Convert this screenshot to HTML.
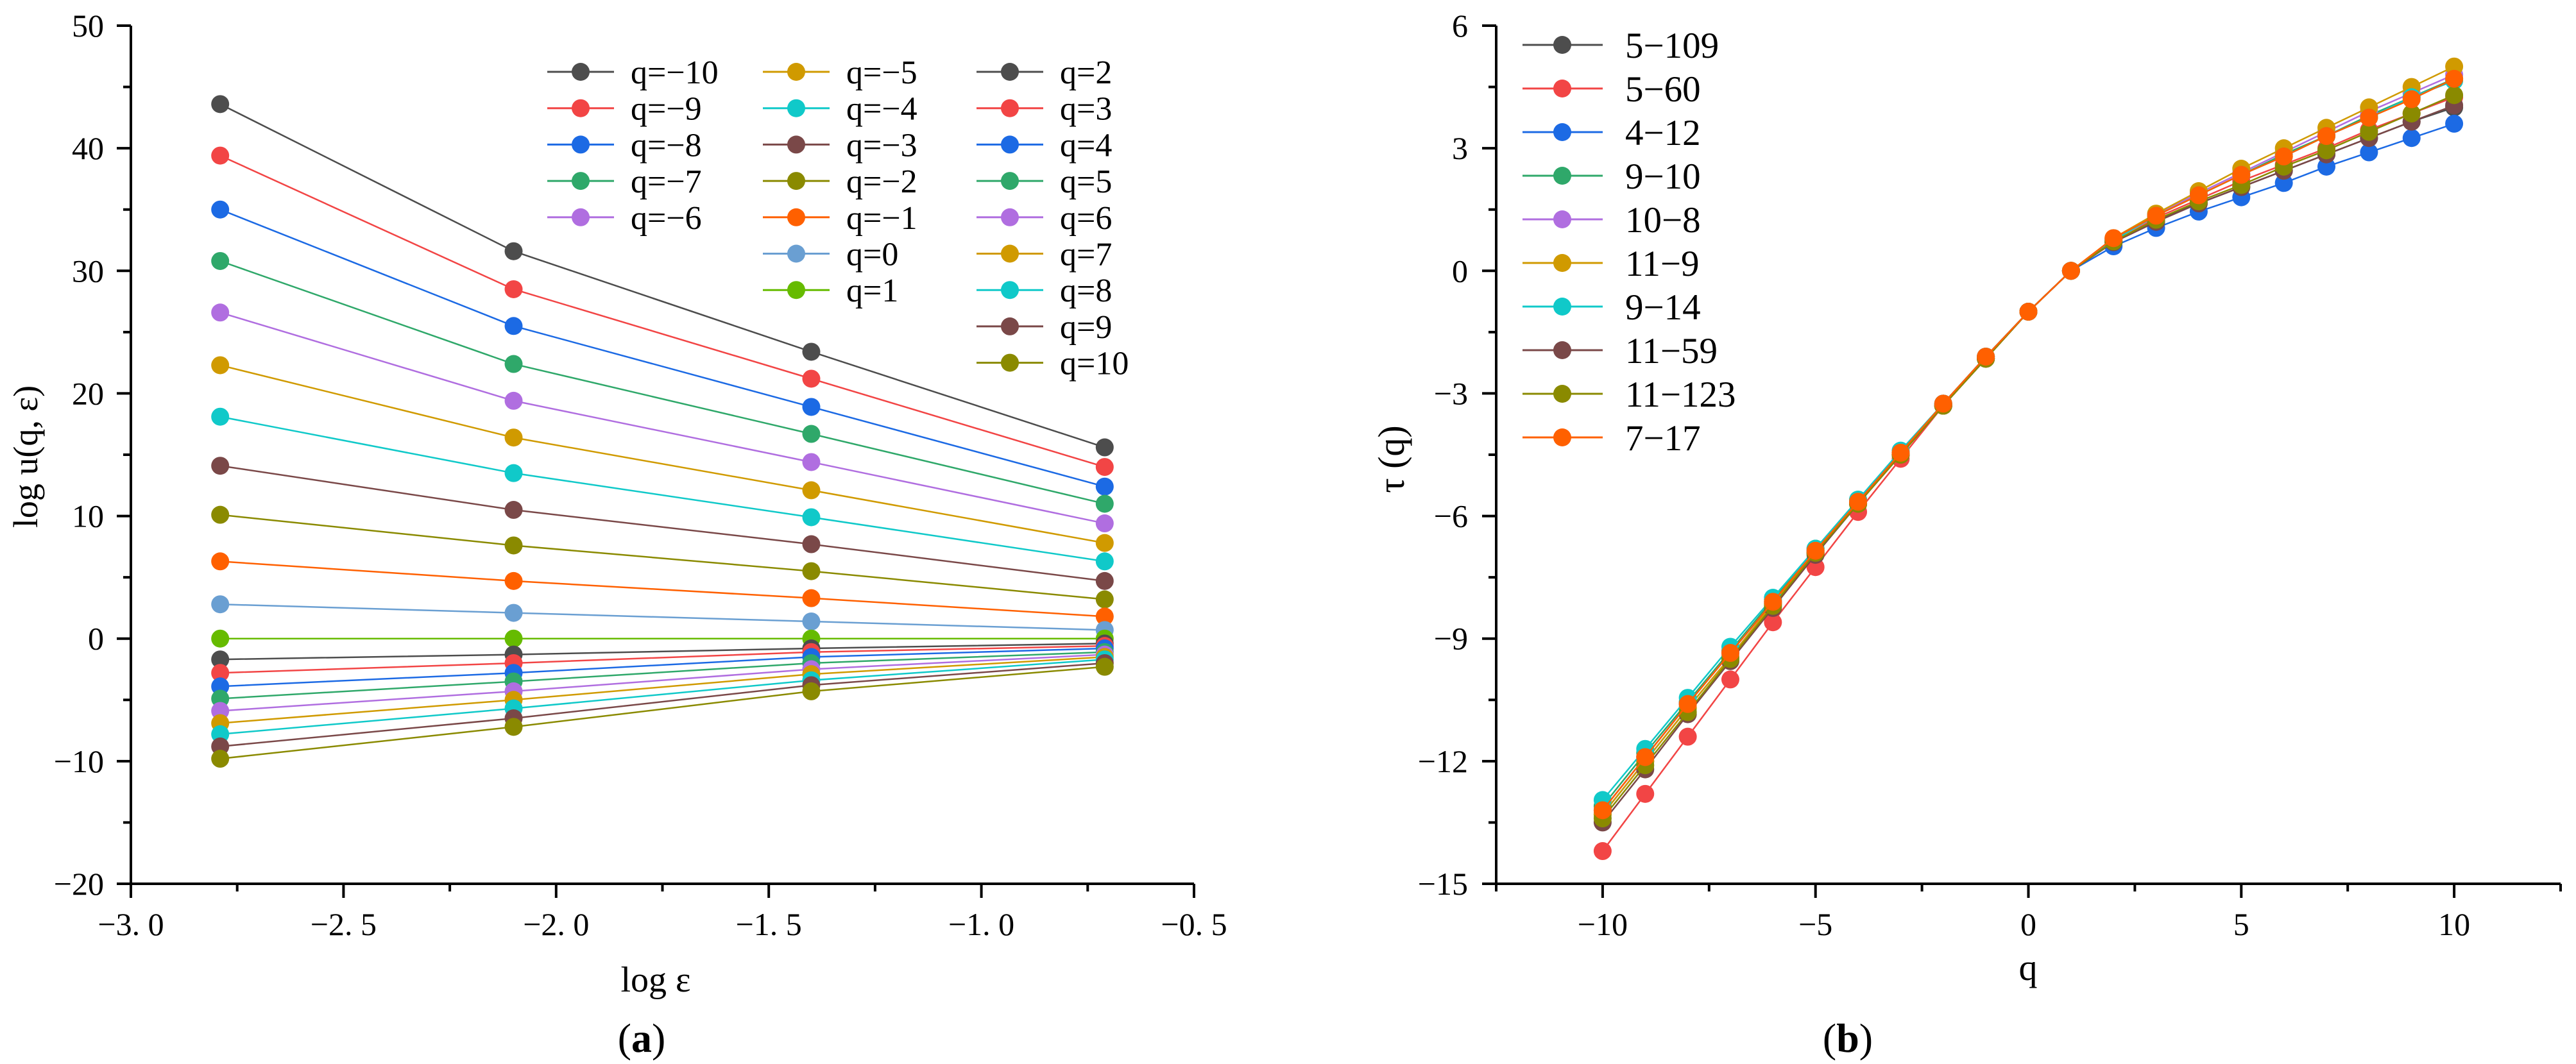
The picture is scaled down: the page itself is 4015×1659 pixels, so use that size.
<!DOCTYPE html>
<html><head><meta charset="utf-8"><style>
html,body{margin:0;padding:0;background:#fff;}
svg{display:block;font-family:"Liberation Serif","Noto Serif CJK SC",serif;}
</style></head><body>
<svg id="fig" width="4015" height="1659" viewBox="0 0 4015 1659" xmlns="http://www.w3.org/2000/svg">
<g id="left"></g>
<g id="right"></g>
</svg>
<script>
// ---- Chart (a) data ----
const epsX = [-2.79, -2.1, -1.4, -0.71];
const qLabels = ['q=-10','q=-9','q=-8','q=-7','q=-6','q=-5','q=-4','q=-3','q=-2','q=-1','q=0','q=1','q=2','q=3','q=4','q=5','q=6','q=7','q=8','q=9','q=10'];
const uQm10 = [43.6, 31.6, 23.4, 15.6];
const uQm9 = [39.4, 28.5, 21.2, 14.0];
const uQm8 = [35.0, 25.5, 18.9, 12.4];
const uQm7 = [30.8, 22.4, 16.7, 11.0];
const uQm6 = [26.6, 19.4, 14.4, 9.4];
const uQm5 = [22.3, 16.4, 12.1, 7.8];
const uQm4 = [18.1, 13.5, 9.9, 6.3];
const uQm3 = [14.1, 10.5, 7.7, 4.7];
const uQm2 = [10.1, 7.6, 5.5, 3.2];
const uQm1 = [6.3, 4.7, 3.3, 1.8];
const uQ0 = [2.8, 2.1, 1.4, 0.7];
const uQ1 = [0, 0, 0, 0];
const uQ2 = [-1.7, -1.3, -0.8, -0.4];
const uQ3 = [-2.8, -2.0, -1.1, -0.6];
const uQ4 = [-3.9, -2.8, -1.5, -0.8];
const uQ5 = [-4.9, -3.5, -2.0, -1.1];
const uQ6 = [-5.9, -4.3, -2.5, -1.3];
const uQ7 = [-6.9, -5.0, -2.9, -1.5];
const uQ8 = [-7.8, -5.7, -3.4, -1.7];
const uQ9 = [-8.8, -6.5, -3.8, -2.0];
const uQ10 = [-9.8, -7.2, -4.3, -2.3];
const aXTicks = [-3.0, -2.5, -2.0, -1.5, -1.0, -0.5];
const aXTickLabels = ['−3. 0','−2. 5','−2. 0','−1. 5','−1. 0','−0. 5'];
const aYTicks = [-20, -10, 0, 10, 20, 30, 40, 50];
const aYTickLabels = ['−20','−10','0','10','20','30','40','50'];

// ---- Chart (b) data ----
const qVals = [-10,-9,-8,-7,-6,-5,-4,-3,-2,-1,0,1,2,3,4,5,6,7,8,9,10];
const bLabels = ['5-109','5-60','4-12','9-10','10-8','11-9','9-14','11-59','11-123','7-17'];
const t5_109 = [-13.3,-12.0,-10.7,-9.45,-8.15,-6.9,-5.7,-4.5,-3.3,-2.15,-1,0,0.7,1.25,1.65,2.05,2.45,2.85,3.25,3.65,4.0];
const t5_60 = [-14.2,-12.8,-11.4,-10.0,-8.6,-7.25,-5.9,-4.6,-3.3,-2.15,-1,0,0.7,1.3,1.75,2.2,2.6,3.0,3.45,3.85,4.25];
const t4_12 = [-13.2,-11.9,-10.6,-9.35,-8.1,-6.85,-5.65,-4.45,-3.25,-2.1,-1,0,0.6,1.05,1.45,1.8,2.15,2.55,2.9,3.25,3.6];
const t9_10 = [-13.1,-11.8,-10.55,-9.3,-8.05,-6.8,-5.6,-4.45,-3.25,-2.1,-1,0,0.75,1.35,1.85,2.35,2.85,3.3,3.8,4.25,4.7];
const t10_8 = [-13.2,-11.9,-10.6,-9.35,-8.1,-6.85,-5.65,-4.45,-3.25,-2.1,-1,0,0.78,1.38,1.9,2.4,2.9,3.4,3.9,4.35,4.8];
const t11_9 = [-13.3,-12.0,-10.7,-9.45,-8.15,-6.9,-5.7,-4.5,-3.3,-2.15,-1,0,0.8,1.4,1.95,2.5,3.0,3.5,4.0,4.5,5.0];
const t9_14 = [-12.95,-11.7,-10.45,-9.2,-8.0,-6.8,-5.6,-4.4,-3.25,-2.1,-1,0,0.75,1.35,1.85,2.35,2.8,3.3,3.75,4.25,4.65];
const t11_59 = [-13.5,-12.2,-10.85,-9.55,-8.25,-6.95,-5.7,-4.5,-3.3,-2.15,-1,0,0.7,1.2,1.65,2.05,2.45,2.85,3.25,3.65,4.05];
const t11_123 = [-13.4,-12.1,-10.8,-9.5,-8.2,-6.9,-5.7,-4.5,-3.3,-2.15,-1,0,0.72,1.25,1.7,2.1,2.55,2.95,3.4,3.85,4.3];
const t7_17 = [-13.2,-11.9,-10.6,-9.35,-8.1,-6.85,-5.65,-4.45,-3.25,-2.1,-1,0,0.8,1.35,1.85,2.35,2.8,3.3,3.75,4.2,4.7];
const bXTicks = [-10,-5,0,5,10];
const bXTickLabels = ['−10','−5','0','5','10'];
const bYTicks = [-15,-12,-9,-6,-3,0,3,6];
const bYTickLabels = ['−15','−12','−9','−6','−3','0','3','6'];

const NS='http://www.w3.org/2000/svg';
function mk(parent, tag, attrs){const e=document.createElementNS(NS,tag);for(const k in attrs)e.setAttribute(k,attrs[k]);parent.appendChild(e);return e;}
const C={gray:'#4d4d4d',red:'#f24545',blue:'#1c6ae4',green:'#2fa86a',purple:'#b06ee0',gold:'#d09a00',cyan:'#10c9c9',brown:'#7a4848',olive:'#8a8a00',orange:'#ff6000',lblue:'#6a9fd2',lime:'#66bb00'};
const TL=22, TM=12, R=14;

// ===== Chart A =====
(function(){
const g=document.getElementById('left');
const X0=204,X1=1861,Y0=1378,Y1=40;
const xs=v=>X0+(v-(-3))/(2.5)*(X1-X0);
const ys=v=>Y0-(v-(-20))/70*(Y0-Y1);
const series=[uQm10,uQm9,uQm8,uQm7,uQm6,uQm5,uQm4,uQm3,uQm2,uQm1,uQ0,uQ1,uQ2,uQ3,uQ4,uQ5,uQ6,uQ7,uQ8,uQ9,uQ10];
const cols=[C.gray,C.red,C.blue,C.green,C.purple,C.gold,C.cyan,C.brown,C.olive,C.orange,C.lblue,C.lime,C.gray,C.red,C.blue,C.green,C.purple,C.gold,C.cyan,C.brown,C.olive];
const ax=mk(g,'path',{d:`M${X0},${Y1} L${X0},${Y0} L${X1},${Y0}`,stroke:'#000','stroke-width':4,fill:'none'});


aXTicks.forEach((t,i)=>{
 const x=xs(t);
 mk(g,'line',{x1:x,y1:Y0,x2:x,y2:Y0+TL,stroke:'#000','stroke-width':4});
 if(i<aXTicks.length-1){const m=xs(t+0.25);mk(g,'line',{x1:m,y1:Y0,x2:m,y2:Y0+TM,stroke:'#000','stroke-width':4});}
 const tx=mk(g,'text',{x:x,y:1458,'font-size':50,'text-anchor':'middle'});tx.textContent=aXTickLabels[i];
 
 
});
aYTicks.forEach((t,i)=>{
 const y=ys(t);
 mk(g,'line',{x1:X0,y1:y,x2:X0-TL,y2:y,stroke:'#000','stroke-width':4});
 if(i<aYTicks.length-1){const m=ys(t+5);mk(g,'line',{x1:X0,y1:m,x2:X0-TM,y2:m,stroke:'#000','stroke-width':4});}
 const tx=mk(g,'text',{x:162,y:y+17,'font-size':50,'text-anchor':'end'});tx.textContent=aYTickLabels[i];
 
 
});
series.forEach((s,si)=>{
 const sg=mk(g,'g',{});
 
 
 mk(sg,'polyline',{points:s.map((v,i)=>xs(epsX[i])+','+ys(v)).join(' '),fill:'none',stroke:cols[si],'stroke-width':2.5});
 s.forEach((v,i)=>{
  const c=mk(sg,'circle',{cx:xs(epsX[i]),cy:ys(v),r:R,fill:cols[si]});
  
  
 });
});
const lg=mk(g,'g',{});


const colX=[905,1241,1574],rowY=112,rowH=56.7;
const perCol=[5,7,9];
let idx=0;
perCol.forEach((n,ci)=>{
 for(let r=0;r<n;r++,idx++){
  const y=rowY+r*rowH,cx=colX[ci];
  const eg=mk(lg,'g',{});
  
  
  mk(eg,'line',{x1:cx-52,y1:y,x2:cx+52,y2:y,stroke:cols[idx],'stroke-width':3});
  mk(eg,'circle',{cx:cx,cy:y,r:R,fill:cols[idx]});
  const t=mk(eg,'text',{x:cx+78,y:y+18,'font-size':52});t.textContent=qLabels[idx].replace('-','−');
 }
});
const yt=mk(g,'text',{x:0,y:0,'font-size':54,'text-anchor':'middle',transform:'translate(58,712) rotate(-90)'});
yt.textContent='log u(q, ε)';


const xt=mk(g,'text',{x:1022,y:1546,'font-size':56,'text-anchor':'middle'});
xt.textContent='log ε';


const pl=mk(g,'text',{x:1000,y:1640,'font-size':64,'text-anchor':'middle'});
pl.innerHTML='(<tspan font-weight="bold">a</tspan>)';


})();

// ===== Chart B =====
(function(){
const g=document.getElementById('right');
const X0=2332,X1=3991,Y0=1378,Y1=40;
const xs=v=>X0+(v+12.5)/25*(X1-X0);
const ys=v=>Y0-(v+15)/21*(Y0-Y1);
const series=[t5_109,t5_60,t4_12,t9_10,t10_8,t11_9,t9_14,t11_59,t11_123,t7_17];
const cols=[C.gray,C.red,C.blue,C.green,C.purple,C.gold,C.cyan,C.brown,C.olive,C.orange];
const ax=mk(g,'path',{d:`M${X0},${Y1} L${X0},${Y0} L${X1},${Y0}`,stroke:'#000','stroke-width':4,fill:'none'});


bXTicks.forEach((t,i)=>{
 const x=xs(t);
 mk(g,'line',{x1:x,y1:Y0,x2:x,y2:Y0+TL,stroke:'#000','stroke-width':4});
 const tx=mk(g,'text',{x:x,y:1458,'font-size':50,'text-anchor':'middle'});tx.textContent=bXTickLabels[i];
 
 
});
[-12.5,-7.5,-2.5,2.5,7.5,12.5].forEach(m=>{const x=xs(m);mk(g,'line',{x1:x,y1:Y0,x2:x,y2:Y0+TM,stroke:'#000','stroke-width':4});});
bYTicks.forEach((t,i)=>{
 const y=ys(t);
 mk(g,'line',{x1:X0,y1:y,x2:X0-TL,y2:y,stroke:'#000','stroke-width':4});
 if(i<bYTicks.length-1){const m=ys(t+1.5);mk(g,'line',{x1:X0,y1:m,x2:X0-TM,y2:m,stroke:'#000','stroke-width':4});}
 const tx=mk(g,'text',{x:2288,y:y+17,'font-size':50,'text-anchor':'end'});tx.textContent=bYTickLabels[i];
 
 
});
series.forEach((s,si)=>{
 const sg=mk(g,'g',{});
 
 
 mk(sg,'polyline',{points:s.map((v,i)=>xs(qVals[i])+','+ys(v)).join(' '),fill:'none',stroke:cols[si],'stroke-width':2.5});
 s.forEach((v,i)=>{
  const c=mk(sg,'circle',{cx:xs(qVals[i]),cy:ys(v),r:R,fill:cols[si]});
  
  
 });
});
const lg=mk(g,'g',{});


bLabels.forEach((lab,i)=>{
 const y=70+i*68,cx=2435;
 const eg=mk(lg,'g',{});
 
 
 mk(eg,'line',{x1:2373,y1:y,x2:2498,y2:y,stroke:cols[i],'stroke-width':3});
 mk(eg,'circle',{cx:cx,cy:y,r:R,fill:cols[i]});
 const t=mk(eg,'text',{x:2533,y:y+20,'font-size':57});t.textContent=lab.replace('-','−');
});
const yt=mk(g,'text',{x:0,y:0,'font-size':58,'text-anchor':'middle',transform:'translate(2188,716) rotate(-90)'});
yt.textContent='τ (q)';


const xt=mk(g,'text',{x:3161,y:1528,'font-size':58,'text-anchor':'middle'});
xt.textContent='q';


const pl=mk(g,'text',{x:2880,y:1640,'font-size':64,'text-anchor':'middle'});
pl.innerHTML='(<tspan font-weight="bold">b</tspan>)';


})();
</script>
</body></html>
